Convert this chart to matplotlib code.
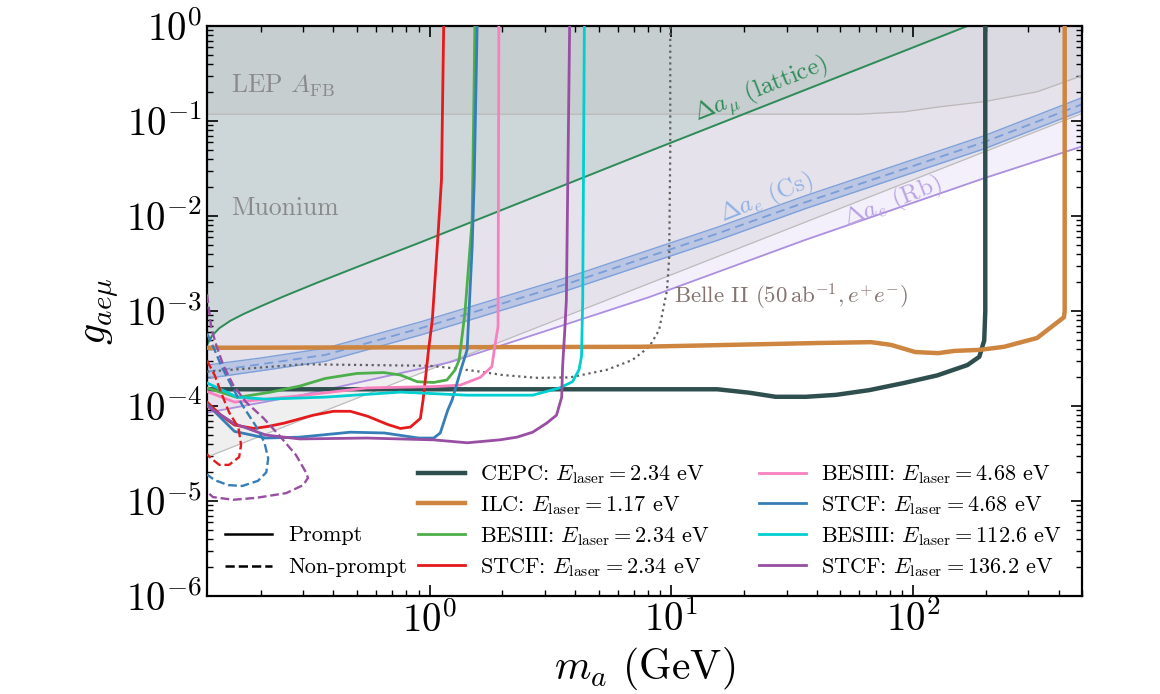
import matplotlib
matplotlib.use('Agg')
import matplotlib.pyplot as plt
from matplotlib.lines import Line2D

plt.rcParams['font.family'] = 'serif'
plt.rcParams['font.serif'] = ['cmr10', 'DejaVu Serif']
plt.rcParams['mathtext.fontset'] = 'cm'
plt.rcParams['axes.formatter.use_mathtext'] = True
plt.rcParams['axes.unicode_minus'] = False

# ---- existing bounds ----
lep_m = [0.12, 60, 92, 126, 197, 326, 500]
lep_g = [0.118, 0.118, 0.125, 0.14, 0.16, 0.203, 0.3]

mu_m = [0.12, 500]
mu_g = [2.9e-5, 0.12]

amu_m = [0.12, 0.126, 0.135, 0.15, 0.17, 0.2, 0.25, 0.34, 0.5, 0.92, 8.1, 163, 200]
amu_g = [4.4e-4, 5.5e-4, 6.6e-4, 7.9e-4, 9.3e-4, 1.12e-3, 1.43e-3, 1.97e-3, 2.9e-3,
         5.3e-3, 4.8e-2, 0.97, 1.19]

cs_m = [0.12, 0.2, 0.37, 0.92, 3.8, 15.7, 36, 197, 500]
cs_g = [2.3e-4, 2.75e-4, 3.45e-4, 6.6e-4, 1.97e-3, 6.6e-3, 1.4e-2, 6.0e-2, 1.5e-1]
cs_lo = [1.95e-4, 2.35e-4, 2.95e-4, 5.6e-4, 1.68e-3, 5.6e-3, 1.2e-2, 5.1e-2, 1.28e-1]
cs_hi = [2.7e-4, 3.2e-4, 4.05e-4, 7.7e-4, 2.3e-3, 7.7e-3, 1.64e-2, 7.0e-2, 1.76e-1]

rb_m = [0.12, 0.294, 1.22, 8.1, 35.8, 197, 500]
rb_g = [8.5e-5, 1.3e-4, 2.9e-4, 1.4e-3, 5.6e-3, 2.5e-2, 5.4e-2]

belle_m = [0.12, 0.3, 1.0, 1.25, 1.62, 2.0, 2.77, 3.8, 5.4, 6.9, 8.1, 8.9, 9.6, 9.8, 9.9, 9.9]
belle_g = [2.3e-4, 2.75e-4, 2.65e-4, 2.5e-4, 2.3e-4, 2.12e-4, 1.98e-4, 2.0e-4, 2.4e-4,
           3.05e-4, 4.2e-4, 6.3e-4, 1.66e-3, 3.7e-3, 0.05, 1.2]

# ---- prompt projections ----
cepc_m = [0.12, 5.0, 15.5, 21, 27, 36, 48, 66, 92, 126, 168, 188, 197, 199, 199]
cepc_g = [1.5e-4, 1.5e-4, 1.5e-4, 1.38e-4, 1.25e-4, 1.25e-4, 1.31e-4, 1.47e-4, 1.75e-4,
          2.1e-4, 2.7e-4, 3.3e-4, 4.9e-4, 1e-3, 1.2]

ilc_m = [0.12, 7.4, 40, 67, 81, 102, 127, 148, 189, 238, 326, 421, 424, 424]
ilc_g = [4.1e-4, 4.2e-4, 4.6e-4, 4.7e-4, 4.4e-4, 3.7e-4, 3.6e-4, 3.8e-4, 3.9e-4, 4.2e-4,
         5.2e-4, 8.6e-4, 1e-3, 1.2]

besiii1_m = [0.12, 0.16, 0.22, 0.29, 0.37, 0.5, 0.645, 0.757, 0.89, 1.04, 1.18, 1.275,
             1.325, 1.4, 1.5, 1.53, 1.54]
besiii1_g = [1.55e-4, 1.23e-4, 1.4e-4, 1.62e-4, 1.95e-4, 2.2e-4, 2.25e-4, 2.12e-4, 1.8e-4,
             1.77e-4, 1.88e-4, 2.4e-4, 3.05e-4, 9.5e-4, 9.1e-3, 0.3, 1.2]

stcf1_m = [0.12, 0.137, 0.156, 0.188, 0.215, 0.25, 0.33, 0.40, 0.47, 0.554, 0.67, 0.757,
           0.833, 0.916, 0.94, 0.96, 0.99, 1.026, 1.085, 1.12, 1.145]
stcf1_g = [1.1e-4, 8e-5, 6.3e-5, 5.8e-5, 6.1e-5, 6.6e-5, 8.0e-5, 8.8e-5, 8.8e-5, 7.8e-5,
           6.4e-5, 5.8e-5, 6.0e-5, 7.4e-5, 1.16e-4, 1.88e-4, 3.9e-4, 8e-4, 6.6e-3, 0.024, 1.2]

besiii2_m = [0.12, 0.156, 0.21, 0.29, 0.55, 1.04, 1.34, 1.62, 1.81, 1.86, 1.92, 1.935]
besiii2_g = [1.42e-4, 1.1e-4, 1.18e-4, 1.28e-4, 1.55e-4, 1.6e-4, 1.66e-4, 2.0e-4, 2.6e-4,
             4.2e-4, 6.9e-4, 1.2]

stcf2_m = [0.12, 0.137, 0.156, 0.21, 0.29, 0.47, 0.65, 0.9, 1.04, 1.107, 1.19, 1.24, 1.31,
           1.36, 1.43, 1.5, 1.53, 1.575]
stcf2_g = [1.05e-4, 7.5e-5, 5.4e-5, 4.6e-5, 4.7e-5, 5.3e-5, 5.2e-5, 4.6e-5, 4.6e-5, 5.2e-5,
           9.1e-5, 1.16e-4, 1.88e-4, 2.6e-4, 3.9e-4, 4.7e-3, 2.4e-2, 1.2]

besiii3_m = [0.12, 0.16, 0.21, 0.37, 0.757, 1.43, 2.67, 3.45, 3.9, 4.15, 4.25, 4.3, 4.37]
besiii3_g = [1.75e-4, 1.24e-4, 1.18e-4, 1.24e-4, 1.4e-4, 1.3e-4, 1.3e-4, 1.55e-4, 1.8e-4,
             2.4e-4, 3.3e-4, 1.3e-3, 1.2]

stcf3_m = [0.12, 0.156, 0.21, 0.29, 0.55, 1.04, 1.43, 1.95, 2.3, 2.67, 3.05, 3.35, 3.52,
           3.55, 3.62, 3.68, 3.8]
stcf3_g = [1.0e-4, 6.5e-5, 4.95e-5, 4.5e-5, 4.6e-5, 4.4e-5, 4.1e-5, 4.4e-5, 4.7e-5, 5.3e-5,
           6.6e-5, 8.0e-5, 1.24e-4, 2.6e-4, 5.9e-4, 1.3e-3, 1.2]

# ---- non-prompt projections ----
stcf1_np_m = [0.12, 0.129, 0.137, 0.148, 0.162, 0.166, 0.163, 0.148, 0.135, 0.125, 0.12]
stcf1_np_g = [3.0e-4, 2.12e-4, 1.4e-4, 8.6e-5, 5.9e-5, 3.9e-5, 2.9e-5, 2.4e-5, 2.4e-5,
              2.8e-5, 3.1e-5]

stcf2_np_m = [0.12, 0.129, 0.137, 0.151, 0.168, 0.19, 0.207, 0.215, 0.211, 0.195, 0.168,
              0.147, 0.129, 0.12]
stcf2_np_g = [5.8e-4, 3.9e-4, 2.7e-4, 1.66e-4, 1.02e-4, 6.3e-5, 4.2e-5, 2.8e-5, 2.0e-5,
              1.63e-5, 1.44e-5, 1.47e-5, 1.66e-5, 1.9e-5]

stcf3_np_m = [0.12, 0.125, 0.131, 0.14, 0.154, 0.174, 0.205, 0.238, 0.28, 0.308, 0.314,
              0.30, 0.255, 0.192, 0.154, 0.127, 0.12]
stcf3_np_g = [1.5e-3, 6.6e-4, 4.4e-4, 2.7e-4, 1.66e-4, 1.1e-4, 7.5e-5, 4.95e-5, 3.05e-5,
              2.0e-5, 1.75e-5, 1.47e-5, 1.21e-5, 1.08e-5, 1.03e-5, 1.1e-5, 1.25e-5]

labels = [r'CEPC: $E_{\rm laser} = 2.34$ eV',
          r'ILC: $E_{\rm laser} = 1.17$ eV',
          r'BESIII: $E_{\rm laser} = 2.34$ eV',
          r'STCF: $E_{\rm laser} = 2.34$ eV',
          r'BESIII: $E_{\rm laser} = 4.68$ eV',
          r'STCF: $E_{\rm laser} = 4.68$ eV',
          r'BESIII: $E_{\rm laser} = 112.6$ eV',
          r'STCF: $E_{\rm laser} = 136.2$ eV']
colors = ['#2F4F4F', '#CD853F', '#4DAF4A', '#E41A1C',
          '#F781BF', '#377EB8', '#00CED1', '#984EA3']
widths = [3.2, 3.2, 2.0, 2.0, 2.0, 2.0, 2.0, 2.0]

x_ticks = [1, 10, 100]
y_ticks = [1e-6, 1e-5, 1e-4, 1e-3, 1e-2, 1e-1, 1]

fig = plt.figure(figsize=(11.6, 6.94), dpi=100)
ax = fig.add_axes([207 / 1160, 98 / 694, 875 / 1160, 570 / 694])
ax.set_xscale('log')
ax.set_yscale('log')

# shaded exclusions
ax.fill_between(mu_m, mu_g, 10, color='#808080', alpha=0.12, lw=0, zorder=1)
ax.fill_between(rb_m, rb_g, 10, color='#9370DB', alpha=0.10, lw=0, zorder=1)
ax.fill_between(amu_m, amu_g, 10, color='#2E8B57', alpha=0.13, lw=0, zorder=1)
ax.fill_between(lep_m, lep_g, 10, color='#808080', alpha=0.09, lw=0, zorder=1)

ax.plot(mu_m, mu_g, color='#bdbdbd', lw=0.9, zorder=2)
ax.plot(lep_m, lep_g, color='#bdb8b8', lw=0.9, zorder=2)
ax.plot(rb_m, rb_g, color='#ac8fe0', lw=1.3, zorder=2)
ax.plot(amu_m, amu_g, color='#2E8B57', lw=1.4, zorder=2)
ax.fill_between(cs_m, cs_lo, cs_hi, color='#7a9dd8', alpha=0.4, lw=0, zorder=2)
ax.plot(cs_m, cs_lo, color='#7fa1da', lw=1.0, zorder=2)
ax.plot(cs_m, cs_hi, color='#7fa1da', lw=1.0, zorder=2)
ax.plot(cs_m, cs_g, color='#7a9dd8', lw=1.3, ls=(0, (5, 3)), zorder=2)
ax.plot(belle_m, belle_g, color='#606060', lw=1.6, ls=':', zorder=3)

# projections
curves = [(cepc_m, cepc_g), (ilc_m, ilc_g), (besiii1_m, besiii1_g), (stcf1_m, stcf1_g),
          (besiii2_m, besiii2_g), (stcf2_m, stcf2_g), (besiii3_m, besiii3_g),
          (stcf3_m, stcf3_g)]
handles = []
for (mm, gg), c, w, lab in zip(curves, colors, widths, labels):
    h, = ax.plot(mm, gg, color=c, lw=w, zorder=3 if w > 3 else 4, label=lab)
    handles.append(h)

ax.plot(stcf1_np_m, stcf1_np_g, color=colors[3], lw=1.7, ls='--', zorder=4)
ax.plot(stcf2_np_m, stcf2_np_g, color=colors[5], lw=1.7, ls='--', zorder=4)
ax.plot(stcf3_np_m, stcf3_np_g, color=colors[7], lw=1.7, ls='--', zorder=4)

# region labels
ax.text(0.151, 0.197, r'LEP $A_{\rm FB}$', fontsize=18.5, color='#8a8a8a', va='baseline', zorder=5)
ax.text(0.151, 0.0102, 'Muonium', fontsize=18.5, color='#8a8a8a', va='baseline', zorder=5)
ax.text(23.4, 0.212, r'$\Delta a_\mu$ (lattice)', fontsize=18, color='#2E8B57', rotation=21.5,
        ha='center', va='center', rotation_mode='anchor', zorder=5)
ax.text(24.7, 0.0155, r'$\Delta a_e$ (Cs)', fontsize=18, color='#8fb1e3', rotation=21.5,
        ha='center', va='center', rotation_mode='anchor', zorder=5)
ax.text(82.5, 0.0137, r'$\Delta a_e$ (Rb)', fontsize=18, color='#b9a2e3', rotation=21.5,
        ha='center', va='center', rotation_mode='anchor', zorder=5)
ax.text(10.3, 1.4e-3, r'Belle II $(50\,{\rm ab}^{-1}, e^{+}e^{-})$', fontsize=16.5,
        color='#85746f', ha='left', va='center', zorder=5)

ax.set_xlim(0.12, 500)
ax.set_ylim(1e-6, 1)
ax.set_xticks(x_ticks)
ax.set_yticks(y_ticks)
ax.set_xlabel(r'$m_a$ (GeV)', fontsize=30)
ax.set_ylabel(r'$g_{ae\mu}$', fontsize=30)
ax.tick_params(which='both', direction='in', top=True, right=True, labelsize=28)
ax.tick_params(which='major', length=8, width=1.2)
ax.tick_params(which='minor', length=4, width=1.0)
for s in ax.spines.values():
    s.set_linewidth(1.6)

leg1 = ax.legend(handles=handles, ncol=2, loc='upper left', bbox_to_anchor=(0.241, 0.2326),
                 frameon=False, fontsize=16, handlelength=2.1, handletextpad=0.7,
                 columnspacing=2.2, labelspacing=0.36, borderpad=0, borderaxespad=0)
ax.add_artist(leg1)
style_handles = [Line2D([], [], color='k', lw=1.8), Line2D([], [], color='k', lw=1.8, ls='--')]
ax.legend(style_handles, ['Prompt', 'Non-prompt'], loc='upper left', bbox_to_anchor=(0.021, 0.123),
          frameon=False, fontsize=16, handlelength=2.1, handletextpad=0.75,
          labelspacing=0.56, borderpad=0, borderaxespad=0)

fig.savefig('out.png', dpi=100)
